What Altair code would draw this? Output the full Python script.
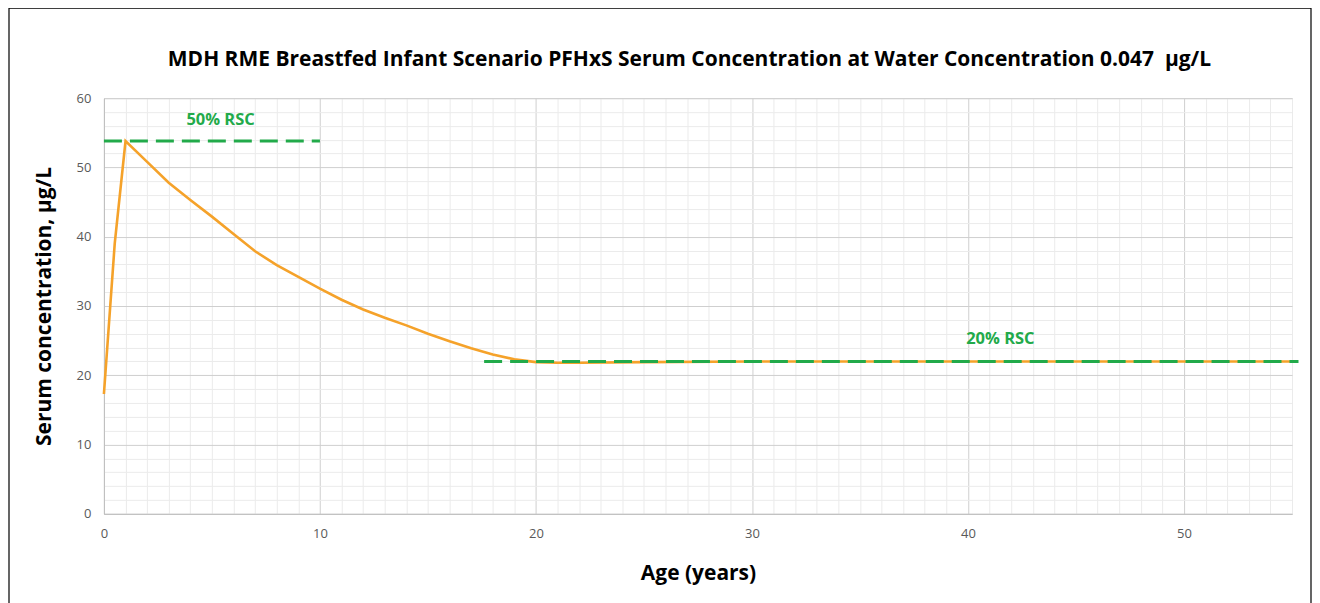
import altair as alt
import pandas as pd

TITLE = "MDH RME Breastfed Infant Scenario PFHxS Serum Concentration at Water Concentration 0.047\u00a0 µg/L"

# Curve data
age = [0, 0.5, 1, 2, 3, 4, 5, 6, 7, 8, 9, 10, 11, 12, 13, 14, 15, 16, 17, 18,
       19, 20, 21, 22, 25, 30, 35, 40, 45, 50, 55]
serum = [17.3, 39.0, 53.8, 50.8, 47.8, 45.3, 42.9, 40.4, 37.9, 35.9, 34.2, 32.5,
         30.9, 29.5, 28.3, 27.2, 26.0, 24.9, 23.9, 23.0, 22.3, 21.9, 21.8, 21.8,
         21.9, 22.0, 22.0, 22.0, 22.0, 22.0, 22.0]

# Reference lines
rsc_labels = ["50% RSC", "20% RSC"]
rsc_values = [53.8, 22.0]
rsc_start = [0, 17.6]
rsc_end = [10, 55.3]
rsc_label_age = [5.4, 41.5]
rsc_label_val = [56.9, 25.3]

x_ticks = [i * 0.5 for i in range(0, 111)]
y_ticks = list(range(0, 61, 2))

FONT = "Open Sans"
ORANGE = "#F5A22A"
GREEN = "#22AA4A"

curve = pd.DataFrame({"age": age, "serum": serum})
rsc = pd.DataFrame({"label": rsc_labels, "val": rsc_values, "x0": rsc_start,
                    "x1": rsc_end, "lx": rsc_label_age, "ly": rsc_label_val})
title_df = pd.DataFrame({"t": [TITLE]})

xscale = alt.Scale(domain=[0, 55], nice=False, zero=False)
yscale = alt.Scale(domain=[0, 60], nice=False)

xaxis = alt.Axis(
    values=x_ticks, tickCount=1000, format="d", title="Age (years)", grid=True,
    gridColor=alt.condition("datum.value % 10 === 0", alt.value("#cfcfcf"), alt.value("#ebebeb")),
    labelExpr="datum.value % 10 === 0 ? datum.label : ''", labelOverlap=False, labelFlush=False,
    ticks=False, domainColor="#bfbfbf", labelPadding=14, labelColor="#595959",
    labelFontSize=13, labelFont=FONT, titleFont=FONT, titleFontSize=21,
    titleFontWeight="bold", titleColor="#000000", titlePadding=22,
)
yaxis = alt.Axis(
    values=y_ticks, tickCount=1000, format="d", title="Serum concentration, µg/L", grid=True,
    gridColor=alt.condition("datum.value % 10 === 0", alt.value("#cfcfcf"), alt.value("#ebebeb")),
    labelExpr="datum.value % 10 === 0 ? datum.label : ''", labelOverlap=False, labelFlush=False,
    ticks=False, domainColor="#bfbfbf", labelPadding=13, labelColor="#595959",
    labelFontSize=13, labelFont=FONT, titleFont=FONT, titleFontSize=21,
    titleFontWeight="bold", titleColor="#000000", titlePadding=22,
)

base_grid = alt.Chart(curve).mark_line(opacity=0).encode(
    x=alt.X("age:Q", scale=xscale, axis=xaxis),
    y=alt.Y("serum:Q", scale=yscale, axis=yaxis),
)

line = alt.Chart(curve).mark_line(color=ORANGE, strokeWidth=2.6).encode(
    x=alt.X("age:Q", scale=xscale),
    y=alt.Y("serum:Q", scale=yscale),
)

rules = alt.Chart(rsc).mark_rule(color=GREEN, strokeWidth=3, strokeDash=[18, 8], clip=False).encode(
    x=alt.X("x0:Q", scale=xscale),
    x2="x1:Q",
    y=alt.Y("val:Q", scale=yscale),
)

labels = alt.Chart(rsc).mark_text(color=GREEN, fontSize=16.5, fontWeight="bold", font=FONT).encode(
    x=alt.X("lx:Q", scale=xscale),
    y=alt.Y("ly:Q", scale=yscale),
    text="label:N",
)

title = alt.Chart(title_df).mark_text(
    color="#000000", fontSize=21, fontWeight="bold", font=FONT, align="center", baseline="middle"
).encode(x=alt.value(586), y=alt.value(-38), text="t:N")

frame = alt.Chart(title_df).mark_rect(fill=None, stroke="#000000", strokeWidth=1.2, clip=False).encode(
    x=alt.value(-95), x2=alt.value(1208), y=alt.value(-90), y2=alt.value(520)
)

chart = alt.layer(base_grid, line, rules, labels, title, frame).properties(
    width=1189, height=416,
    autosize=alt.AutoSizeParams(type="none"),
    padding={"left": 96, "top": 90, "right": 20, "bottom": 90},
).configure_view(stroke=None).configure(background="white")

chart.save("out.html", embed_options={"renderer": "svg", "actions": False})
